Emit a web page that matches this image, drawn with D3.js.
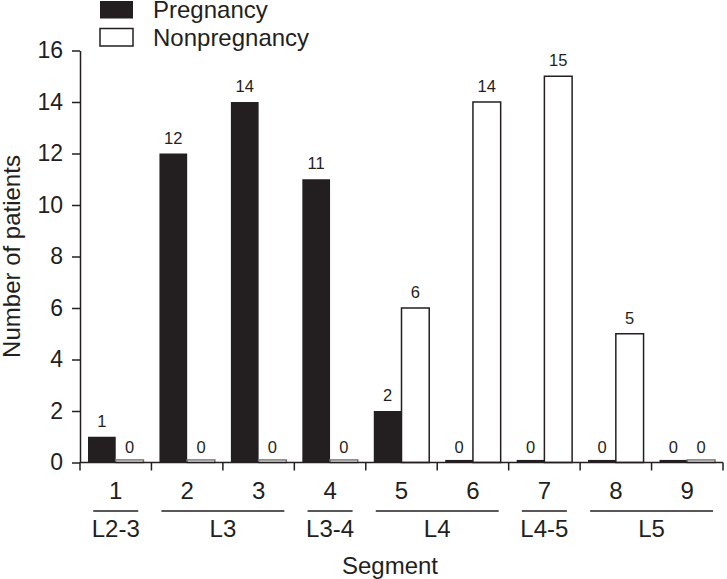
<!DOCTYPE html>
<html>
<head>
<meta charset="utf-8">
<script src="https://cdn.jsdelivr.net/npm/d3@7"></script>
<style>
  body { margin: 0; background: #fff; }
  svg { display: block; font-family: "Liberation Sans", Arial, sans-serif; }
</style>
</head>
<body>
<div id="chart"></div>
<script>
// data
const segments = ["1", "2", "3", "4", "5", "6", "7", "8", "9"];
const levels = ["L2-3", "L3", "L3", "L3-4", "L4", "L4", "L4-5", "L5", "L5"];
const pregnancy = [1, 12, 14, 11, 2, 0, 0, 0, 0];
const nonpregnancy = [0, 0, 0, 0, 6, 14, 15, 5, 0];
const series = ["Pregnancy", "Nonpregnancy"];
const yTicks = [0, 2, 4, 6, 8, 10, 12, 14, 16];

const W = 727, H = 579;
const ink = "#231f20";
const x0 = 80, x1 = 723, yTop = 50.5, yBottom = 462.5;

const svg = d3.select("#chart").append("svg")
  .attr("width", W)
  .attr("height", H);

const x = d3.scaleBand()
  .domain(segments)
  .range([x0, x1])
  .padding(0);

const xs = d3.scaleBand()
  .domain(series)
  .range([8, x.bandwidth() - 8])
  .padding(0);

const y = d3.scaleLinear()
  .domain([0, 16])
  .range([yBottom, yTop]);

const rows = segments.map((s, i) => ({ seg: s, vals: [pregnancy[i], nonpregnancy[i]] }));

// bars (zero values drawn as a thin stub like in the original)
const grp = svg.append("g").selectAll("g")
  .data(rows)
  .join("g")
  .attr("transform", d => `translate(${x(d.seg)},0)`);

grp.selectAll("rect")
  .data(d => d.vals.map((v, j) => ({ key: series[j], v: v })))
  .join("rect")
  .attr("x", d => xs(d.key))
  .attr("width", xs.bandwidth())
  .attr("y", d => y(Math.max(d.v, 0.1)))
  .attr("height", d => yBottom - y(Math.max(d.v, 0.1)))
  .attr("fill", d => d.key === "Pregnancy" ? ink : "#fff")
  .attr("stroke", d => d.key === "Pregnancy" ? "none" : (d.v === 0 ? "#777" : ink))
  .attr("stroke-width", 1.5);

grp.selectAll("text")
  .data(d => d.vals.map((v, j) => ({ key: series[j], v: v })))
  .join("text")
  .attr("x", d => xs(d.key) + xs.bandwidth() / 2)
  .attr("y", d => y(d.v) - 10)
  .attr("text-anchor", "middle")
  .attr("font-size", "16.5px")
  .attr("fill", ink)
  .text(d => d.v);

// y axis
const yAxis = svg.append("g")
  .attr("transform", `translate(${x0},0)`)
  .call(d3.axisLeft(y).tickValues(yTicks).tickSize(8).tickPadding(9).tickSizeOuter(0));
yAxis.select(".domain").attr("stroke", ink).attr("stroke-width", 1.5);
yAxis.selectAll(".tick line").attr("stroke", ink).attr("stroke-width", 1.5);
yAxis.selectAll(".tick text").attr("font-size", "23px").attr("fill", ink)
  .attr("font-family", "Liberation Sans, Arial, sans-serif");

// x axis: boundary ticks between segments
const bounds = segments.map(s => x(s)).concat([x1]);
svg.append("line")
  .attr("x1", x0).attr("x2", x1)
  .attr("y1", yBottom).attr("y2", yBottom)
  .attr("stroke", ink).attr("stroke-width", 1.5);
svg.append("g").selectAll("line")
  .data(bounds)
  .join("line")
  .attr("x1", d => d).attr("x2", d => d)
  .attr("y1", yBottom).attr("y2", yBottom + 8)
  .attr("stroke", ink).attr("stroke-width", 1.5);

svg.append("g").selectAll("text")
  .data(segments)
  .join("text")
  .attr("x", d => x(d) + x.bandwidth() / 2)
  .attr("y", 499)
  .attr("text-anchor", "middle")
  .attr("font-size", "24px")
  .attr("fill", ink)
  .text(d => d);

// level groups under the segment numbers
const spans = [];
levels.forEach((l, i) => {
  const last = spans[spans.length - 1];
  if (last && last.label === l) last.to = i;
  else spans.push({ label: l, from: i, to: i });
});

const spanG = svg.append("g").selectAll("g")
  .data(spans)
  .join("g");

spanG.append("line")
  .attr("x1", d => d.from === d.to ? x(segments[d.from]) + x.bandwidth() / 2 - 22.5 : x(segments[d.from]) + 10)
  .attr("x2", d => d.from === d.to ? x(segments[d.from]) + x.bandwidth() / 2 + 22.5 : x(segments[d.to]) + x.bandwidth() - 10)
  .attr("y1", 511).attr("y2", 511)
  .attr("stroke", ink).attr("stroke-width", 1.5);

spanG.append("text")
  .attr("x", d => (x(segments[d.from]) + x(segments[d.to]) + x.bandwidth()) / 2)
  .attr("y", 537)
  .attr("text-anchor", "middle")
  .attr("font-size", "24px")
  .attr("fill", ink)
  .text(d => d.label);

// axis titles
svg.append("text")
  .attr("x", 390)
  .attr("y", 574)
  .attr("text-anchor", "middle")
  .attr("font-size", "24px")
  .attr("fill", ink)
  .text("Segment");

svg.append("text")
  .attr("transform", "rotate(-90)")
  .attr("x", -256.5)
  .attr("y", 20)
  .attr("text-anchor", "middle")
  .attr("font-size", "24px")
  .attr("fill", ink)
  .text("Number of patients");

// legend
const legend = svg.append("g").selectAll("g")
  .data(series)
  .join("g")
  .attr("transform", (d, i) => `translate(100,${i === 0 ? 1 : 28.5})`);

legend.append("rect")
  .attr("width", 33)
  .attr("height", 17.5)
  .attr("fill", (d, i) => i === 0 ? ink : "#fff")
  .attr("stroke", (d, i) => i === 0 ? "none" : ink)
  .attr("stroke-width", 1.5);

legend.append("text")
  .attr("x", 53)
  .attr("y", 17)
  .attr("font-size", "24px")
  .attr("fill", ink)
  .text(d => d);
</script>
</body>
</html>
